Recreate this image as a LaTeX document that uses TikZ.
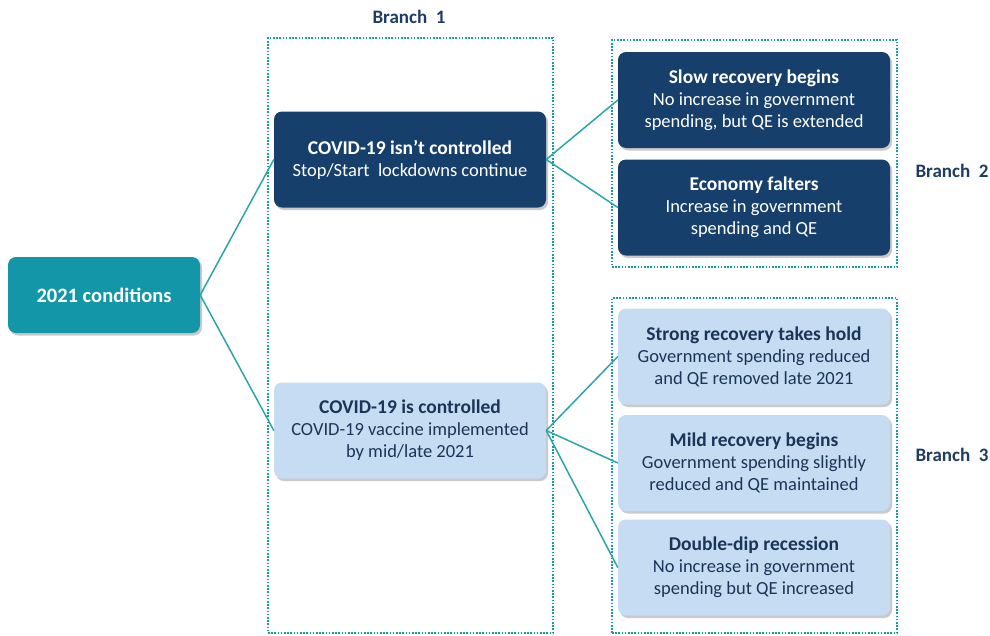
\documentclass[tikz,border=0pt]{standalone}
\usepackage{fontspec}
\setmainfont{Carlito}
\usetikzlibrary{shadows}
\definecolor{navy}{HTML}{173F6B}
\definecolor{tealbox}{HTML}{1296A8}
\definecolor{lightbox}{HTML}{C6DCF2}
\definecolor{darktext}{HTML}{1B3558}
\definecolor{conncol}{HTML}{2AA5A8}
\definecolor{dotcol}{HTML}{1A9A9A}
\definecolor{labelcol}{HTML}{1F3D63}
\newcommand{\ttl}[1]{{\fontsize{19.5}{22}\selectfont\bfseries #1}}
\begin{document}
\begin{tikzpicture}[x=1pt,y=-1pt,
  box/.style={rounded corners=8pt, minimum width=272pt, minimum height=96pt,
    align=center, inner sep=0pt, font=\fontsize{18.5}{22}\selectfont,
    drop shadow={shadow xshift=2pt, shadow yshift=-2.5pt, opacity=0.35, fill=black!60}},
  darkbox/.style={box, fill=navy, text=white},
  lightbx/.style={box, fill=lightbox, text=darktext},
  conn/.style={draw=conncol, line width=1.5pt},
  dotbox/.style={draw=dotcol, line width=1.6pt, dash pattern=on 1.6pt off 1.6pt, inner sep=0pt},
  branchlbl/.style={font=\fontsize{19}{22}\selectfont\bfseries, text=labelcol}]
\useasboundingbox (0,0) rectangle (990,635);

% dotted branch frames
\node[dotbox, minimum width=285pt, minimum height=595pt] (b1frame) at (410.5,335.5) {};
\node[dotbox, minimum width=285pt, minimum height=227pt] (b2frame) at (754.5,153.5) {};
\node[dotbox, minimum width=285pt, minimum height=335pt] (b3frame) at (754.5,465.5) {};

% branch labels
\node[branchlbl] (lbl1) at (409,17) {Branch\ \ 1};
\node[branchlbl] (lbl2) at (952,171) {Branch\ \ 2};
\node[branchlbl] (lbl3) at (952,455) {Branch\ \ 3};

% nodes
\node[box, fill=tealbox, text=white, minimum width=192pt, minimum height=76pt, font=\fontsize{20.5}{22}\selectfont\bfseries] (cond) at (104,295) {2021 conditions};

\node[darkbox] (unc) at (410,159.5) {\ttl{COVID-19 isn’t controlled}\\Stop/Start\ \ lockdowns continue};
\node[lightbx] (ctl) at (410,430.5) {\ttl{COVID-19 is controlled}\\COVID-19 vaccine implemented\\by mid/late 2021};

\node[darkbox] (slow) at (754,100) {\ttl{Slow recovery begins}\\No increase in government\\spending, but QE is extended};
\node[darkbox] (falt) at (754,207.5) {\ttl{Economy falters}\\Increase in government\\spending and QE};

\node[lightbx] (strong) at (754,356.5) {\ttl{Strong recovery takes hold}\\Government spending reduced\\and QE removed late 2021};
\node[lightbx] (mild) at (754,463) {\ttl{Mild recovery begins}\\Government spending slightly\\reduced and QE maintained};
\node[lightbx] (dip) at (754,567.5) {\ttl{Double-dip recession}\\No increase in government\\spending but QE increased};

% connectors
\draw[conn] (cond.east) -- (unc.west);
\draw[conn] (cond.east) -- (ctl.west);
\draw[conn] (unc.east) -- (slow.west);
\draw[conn] (unc.east) -- (falt.west);
\draw[conn] (ctl.east) -- (strong.west);
\draw[conn] (ctl.east) -- (mild.west);
\draw[conn] (ctl.east) -- (dip.west);
\end{tikzpicture}
\end{document}
